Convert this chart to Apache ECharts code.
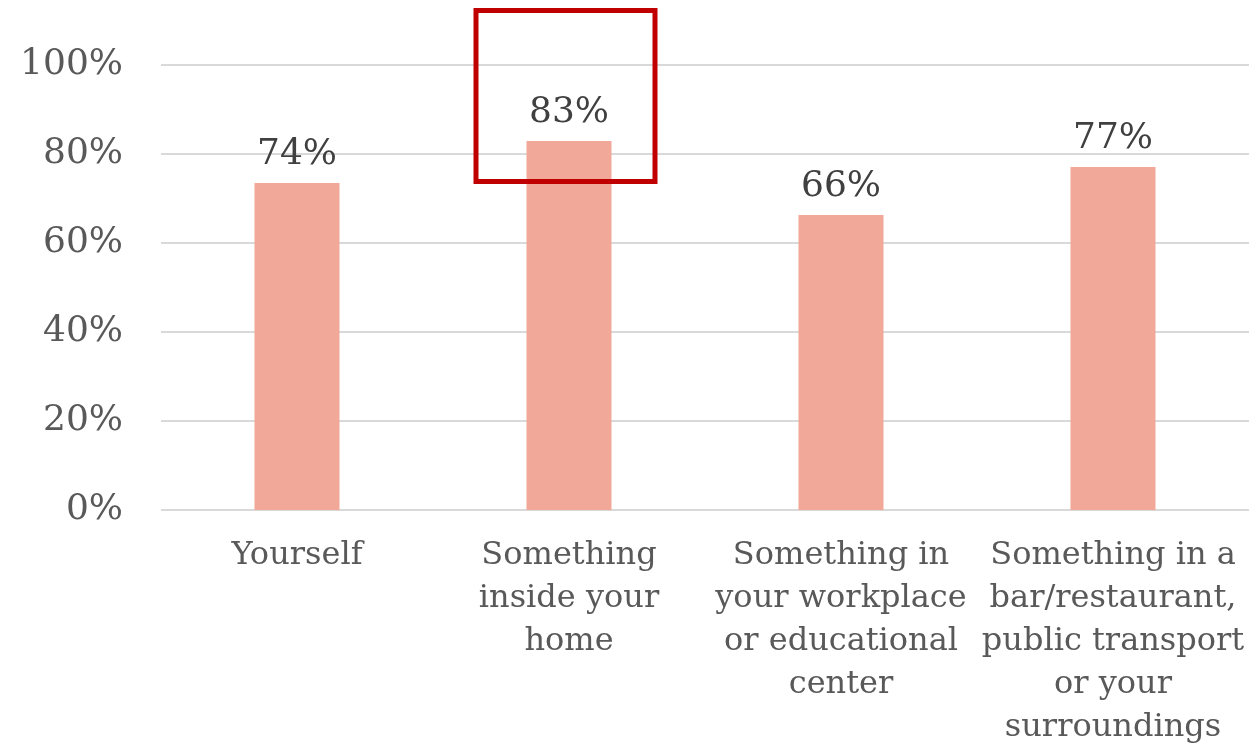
<!DOCTYPE html>
<html>
<head>
<meta charset="utf-8">
<script src="https://cdn.jsdelivr.net/npm/echarts@6/dist/echarts.min.js"></script>
<style>
  html, body { margin: 0; padding: 0; background: #fff; }
  #chart { width: 1253px; height: 745px; }
</style>
</head>
<body>
<div id="chart"></div>
<script>
var categories = ['Yourself', 'Something\ninside your\nhome', 'Something in\nyour workplace\nor educational\ncenter', 'Something in a\nbar/restaurant,\npublic transport\nor your\nsurroundings'];
var shares = [73.5, 82.9, 66.3, 77.1];
var yTicks = [0, 20, 40, 60, 80, 100];

var font = 'DejaVu Serif';
var myChart = echarts.init(document.getElementById('chart'));

var option = {
  backgroundColor: '#fff',
  animation: false,
  grid: { left: 161, right: 4, top: 65, bottom: 235, outerBoundsMode: 'none', containLabel: false },
  xAxis: {
    type: 'category',
    data: categories,
    axisLine: { show: false },
    axisTick: { show: false },
    axisLabel: {
      margin: 24,
      color: '#595959',
      fontFamily: font,
      fontSize: 32,
      lineHeight: 43,
      interval: 0
    }
  },
  yAxis: {
    type: 'value',
    min: yTicks[0],
    max: yTicks[yTicks.length - 1],
    interval: 20,
    axisLine: { show: false },
    axisTick: { show: false },
    splitLine: { lineStyle: { color: '#D9D9D9', width: 2 } },
    axisLabel: {
      margin: 38,
      color: '#595959',
      fontFamily: font,
      fontSize: 36,
      formatter: '{value}%'
    }
  },
  series: [{
    type: 'bar',
    data: shares,
    barWidth: 85,
    itemStyle: { color: '#F1A898' },
    label: {
      show: true,
      position: 'top',
      distance: 10,
      color: '#404040',
      fontFamily: font,
      fontSize: 36,
      formatter: function (p) { return Math.round(p.value) + '%'; }
    }
  }]
};
myChart.setOption(option);

// red highlight box around the second column's label
var cx = myChart.convertToPixel({ xAxisIndex: 0 }, categories[1]);
myChart.setOption({
  graphic: [{
    type: 'rect',
    shape: { x: cx - 93, y: 10.5, width: 179, height: 171 },
    style: { fill: 'none', stroke: '#C00000', lineWidth: 5 },
    z: 10
  }]
});
</script>
</body>
</html>
